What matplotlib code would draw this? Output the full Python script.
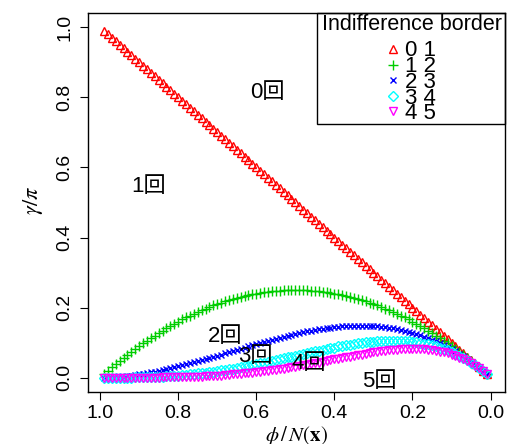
import matplotlib
matplotlib.use("Agg")
import matplotlib.pyplot as plt
from matplotlib.patches import Rectangle

plt.rcParams['font.family'] = ['Liberation Sans', 'Noto Sans CJK JP']
plt.rcParams['mathtext.fontset'] = 'stix'

# phi / N(x), from 0.99 down to 0.01
phi = [0.99, 0.98, 0.97, 0.96, 0.95, 0.94, 0.93, 0.92, 0.91, 0.90,
       0.89, 0.88, 0.87, 0.86, 0.85, 0.84, 0.83, 0.82, 0.81, 0.80,
       0.79, 0.78, 0.77, 0.76, 0.75, 0.74, 0.73, 0.72, 0.71, 0.70,
       0.69, 0.68, 0.67, 0.66, 0.65, 0.64, 0.63, 0.62, 0.61, 0.60,
       0.59, 0.58, 0.57, 0.56, 0.55, 0.54, 0.53, 0.52, 0.51, 0.50,
       0.49, 0.48, 0.47, 0.46, 0.45, 0.44, 0.43, 0.42, 0.41, 0.40,
       0.39, 0.38, 0.37, 0.36, 0.35, 0.34, 0.33, 0.32, 0.31, 0.30,
       0.29, 0.28, 0.27, 0.26, 0.25, 0.24, 0.23, 0.22, 0.21, 0.20,
       0.19, 0.18, 0.17, 0.16, 0.15, 0.14, 0.13, 0.12, 0.11, 0.10,
       0.09, 0.08, 0.07, 0.06, 0.05, 0.04, 0.03, 0.02, 0.01]

# gamma / pi on each indifference border
b01 = [0.99, 0.98, 0.97, 0.96, 0.95, 0.94, 0.93, 0.92, 0.91, 0.90,
       0.89, 0.88, 0.87, 0.86, 0.85, 0.84, 0.83, 0.82, 0.81, 0.80,
       0.79, 0.78, 0.77, 0.76, 0.75, 0.74, 0.73, 0.72, 0.71, 0.70,
       0.69, 0.68, 0.67, 0.66, 0.65, 0.64, 0.63, 0.62, 0.61, 0.60,
       0.59, 0.58, 0.57, 0.56, 0.55, 0.54, 0.53, 0.52, 0.51, 0.50,
       0.49, 0.48, 0.47, 0.46, 0.45, 0.44, 0.43, 0.42, 0.41, 0.40,
       0.39, 0.38, 0.37, 0.36, 0.35, 0.34, 0.33, 0.32, 0.31, 0.30,
       0.29, 0.28, 0.27, 0.26, 0.25, 0.24, 0.23, 0.22, 0.21, 0.20,
       0.19, 0.18, 0.17, 0.16, 0.15, 0.14, 0.13, 0.12, 0.11, 0.10,
       0.09, 0.08, 0.07, 0.06, 0.05, 0.04, 0.03, 0.02, 0.01]

b12 = [0.010, 0.020, 0.029, 0.038, 0.048, 0.056, 0.065, 0.074, 0.082, 0.090,
       0.098, 0.106, 0.113, 0.120, 0.128, 0.134, 0.141, 0.148, 0.154, 0.160,
       0.166, 0.172, 0.177, 0.182, 0.188, 0.192, 0.197, 0.202, 0.206, 0.210,
       0.214, 0.218, 0.221, 0.224, 0.228, 0.230, 0.233, 0.236, 0.238, 0.240,
       0.242, 0.244, 0.245, 0.246, 0.248, 0.248, 0.249, 0.250, 0.250, 0.250,
       0.250, 0.250, 0.249, 0.248, 0.248, 0.246, 0.245, 0.244, 0.242, 0.240,
       0.238, 0.236, 0.233, 0.230, 0.228, 0.224, 0.221, 0.218, 0.214, 0.210,
       0.206, 0.202, 0.197, 0.192, 0.188, 0.182, 0.177, 0.172, 0.166, 0.160,
       0.154, 0.148, 0.141, 0.134, 0.128, 0.120, 0.113, 0.106, 0.098, 0.090,
       0.082, 0.074, 0.065, 0.056, 0.048, 0.038, 0.029, 0.020, 0.010]

b23 = [0.000, 0.000, 0.001, 0.002, 0.002, 0.003, 0.005, 0.006, 0.007, 0.009,
       0.011, 0.013, 0.015, 0.017, 0.019, 0.022, 0.024, 0.027, 0.029, 0.032,
       0.035, 0.038, 0.041, 0.044, 0.047, 0.050, 0.053, 0.056, 0.060, 0.063,
       0.066, 0.070, 0.073, 0.076, 0.080, 0.083, 0.086, 0.090, 0.093, 0.096,
       0.099, 0.102, 0.105, 0.108, 0.111, 0.114, 0.117, 0.120, 0.122, 0.125,
       0.127, 0.130, 0.132, 0.134, 0.136, 0.138, 0.140, 0.141, 0.143, 0.144,
       0.145, 0.146, 0.147, 0.147, 0.148, 0.148, 0.148, 0.148, 0.148, 0.147,
       0.146, 0.145, 0.144, 0.142, 0.141, 0.139, 0.136, 0.134, 0.131, 0.128,
       0.125, 0.121, 0.117, 0.113, 0.108, 0.104, 0.098, 0.093, 0.087, 0.081,
       0.075, 0.068, 0.061, 0.053, 0.045, 0.037, 0.028, 0.019, 0.010]

b34 = [0.000, 0.000, 0.000, 0.000, 0.000, 0.000, 0.000, 0.000, 0.001, 0.001,
       0.001, 0.002, 0.002, 0.002, 0.003, 0.003, 0.004, 0.005, 0.006, 0.006,
       0.007, 0.008, 0.009, 0.011, 0.012, 0.013, 0.014, 0.016, 0.017, 0.019,
       0.021, 0.022, 0.024, 0.026, 0.028, 0.030, 0.032, 0.034, 0.036, 0.038,
       0.041, 0.043, 0.045, 0.048, 0.050, 0.053, 0.055, 0.058, 0.060, 0.063,
       0.065, 0.067, 0.070, 0.072, 0.075, 0.077, 0.080, 0.082, 0.084, 0.086,
       0.089, 0.091, 0.093, 0.094, 0.096, 0.098, 0.099, 0.101, 0.102, 0.103,
       0.104, 0.105, 0.105, 0.105, 0.105, 0.105, 0.105, 0.104, 0.104, 0.102,
       0.101, 0.099, 0.097, 0.095, 0.092, 0.089, 0.086, 0.082, 0.078, 0.073,
       0.068, 0.062, 0.056, 0.050, 0.043, 0.035, 0.027, 0.019, 0.010]

b45 = [0.000, 0.000, 0.000, 0.000, 0.000, 0.000, 0.000, 0.000, 0.000, 0.000,
       0.000, 0.000, 0.000, 0.000, 0.000, 0.001, 0.001, 0.001, 0.001, 0.001,
       0.002, 0.002, 0.002, 0.003, 0.003, 0.003, 0.004, 0.004, 0.005, 0.006,
       0.006, 0.007, 0.008, 0.009, 0.010, 0.011, 0.012, 0.013, 0.014, 0.015,
       0.017, 0.018, 0.019, 0.021, 0.023, 0.024, 0.026, 0.028, 0.029, 0.031,
       0.033, 0.035, 0.037, 0.039, 0.041, 0.043, 0.045, 0.048, 0.050, 0.052,
       0.054, 0.056, 0.058, 0.060, 0.062, 0.065, 0.066, 0.068, 0.070, 0.072,
       0.074, 0.075, 0.077, 0.078, 0.079, 0.080, 0.081, 0.081, 0.082, 0.082,
       0.082, 0.081, 0.081, 0.080, 0.078, 0.077, 0.074, 0.072, 0.069, 0.066,
       0.062, 0.057, 0.052, 0.047, 0.041, 0.034, 0.027, 0.018, 0.010]

borders = [b01, b12, b23, b34, b45]
border_labels = ["0 1", "1 2", "2 3", "3 4", "4 5"]
colors = ["#FF0000", "#00CD00", "#0000FF", "#00FFFF", "#FF00FF"]
markers = ["^", "+", "x", "D", "v"]
msizes = [5.5, 6.5, 5.0, 4.6, 5.5]

region_text = ["0回", "1回", "2回", "3回", "4回", "5回"]
region_x = [0.616, 0.919, 0.723, 0.646, 0.509, 0.328]
region_y = [0.797, 0.529, 0.103, 0.046, 0.024, -0.027]

ticks = [1.0, 0.8, 0.6, 0.4, 0.2, 0.0]
tick_labels = ["1.0", "0.8", "0.6", "0.4", "0.2", "0.0"]

fig = plt.figure(figsize=(5.10, 4.44), dpi=100)
ax = fig.add_axes([88/510, 52/444, 417/510, 379/444])

for ys, c, m, ms in zip(borders, colors, markers, msizes):
    ax.plot(phi, ys, linestyle="none", marker=m, ms=ms, mfc="none",
            mec=c, mew=1.0)

for t, x, y in zip(region_text, region_x, region_y):
    ax.text(x, y, t, fontsize=16, ha="left", va="baseline")

ax.set_xlim(1.031, -0.037)
ax.set_ylim(-0.041, 1.041)
ax.set_xticks(ticks)
ax.set_xticklabels(tick_labels, fontsize=14)
ax.set_yticks(ticks)
ax.set_yticklabels(tick_labels, fontsize=14, rotation=90, va="center")
ax.tick_params(axis="x", length=6, width=0.8, pad=3.5)
ax.tick_params(axis="y", length=6, width=0.8, pad=4.5)
for s in ax.spines.values():
    s.set_linewidth(1.0)
    s.set_color("black")

fig.text(297/510, 0.006, r"$\phi\,/\,N(\mathbf{x})$", fontsize=15,
         ha="center", va="baseline")
fig.text(33/510, 244/444, r"$\gamma/\pi$", fontsize=16, rotation=90,
         ha="center", va="center")

# legend drawn like R's legend(): title over centred keys
ax.add_patch(Rectangle((0.549, 0.707), 0.451, 0.293, transform=ax.transAxes,
                       fill=False, edgecolor="black", linewidth=1.0,
                       clip_on=False, zorder=5))
ax.text(0.778, 0.955, "Indifference border", transform=ax.transAxes,
        fontsize=15.5, ha="center", va="baseline")
key_y = [0.9055, 0.8641, 0.8219, 0.7805, 0.7409]
for lab, c, m, ms, ky in zip(border_labels, colors, markers, msizes, key_y):
    ax.plot([0.7314], [ky], transform=ax.transAxes, linestyle="none",
            marker=m, ms=ms, mfc="none", mec=c, mew=1.0, clip_on=False)
    ax.text(0.7602, ky - 0.0198, lab, transform=ax.transAxes,
            fontsize=16, ha="left", va="baseline")

fig.savefig("out.png", dpi=100)
